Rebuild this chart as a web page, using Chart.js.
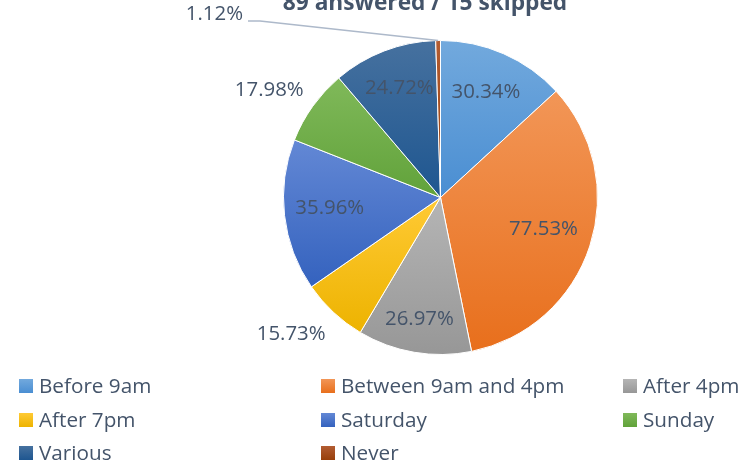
<!DOCTYPE html>
<html>
<head>
<meta charset="utf-8">
<script src="https://cdn.jsdelivr.net/npm/chart.js@4.4.1/dist/chart.umd.min.js"></script>
<style>
  html, body { margin: 0; padding: 0; background: #fff; }
  #wrap { position: relative; width: 756px; height: 468px; overflow: hidden; }
  #legend { position: absolute; left: 0; top: 0; width: 756px; height: 468px; pointer-events: none;
    font-family: "Open Sans", sans-serif; font-size: 20.7px; color: #44546a; }
  .item { position: absolute; white-space: nowrap; line-height: 1; }
  .box { position: absolute; width: 14px; height: 14px; }
  .txt { position: absolute; }
</style>
</head>
<body>
<div id="wrap">
  <canvas id="pie" width="756" height="468"></canvas>
  <div id="legend"></div>
</div>
<script>
const title = '89 answered / 15 skipped';
const categories = ['Before 9am', 'Between 9am and 4pm', 'After 4pm', 'After 7pm', 'Saturday', 'Sunday', 'Various', 'Never'];
const percentValues = [30.34, 77.53, 26.97, 15.73, 35.96, 17.98, 24.72, 1.12];

// slice colours: lighter top, darker bottom (office style gradient)
const topColors = ['#72a9dd', '#f29657', '#b5b5b5', '#ffca35', '#6388d5', '#80b95a', '#46719f', '#b25c32'];
const bottomColors = ['#4a8ed2', '#e86f1c', '#979797', '#edb300', '#3462be', '#61a23a', '#1e5690', '#983f0a'];

// label placement: [fraction of radius, angle nudge in degrees]
const labelPlace = [[0.72, 0], [0.69, 0], [0.8, 0], [1.3, 4], [0.71, 0], [1.28, -4], [0.73, 0], null];
const textColor = '#44546a';

const gradientPlugin = {
  id: 'sliceGradient',
  beforeDatasetsDraw(chart) {
    const ctx = chart.ctx;
    chart.getDatasetMeta(0).data.forEach((arc, i) => {
      const p = arc.getProps(['x', 'y', 'startAngle', 'endAngle', 'outerRadius']);
      let ymin = p.y, ymax = p.y;
      for (let k = 0; k <= 40; k++) {
        const a = p.startAngle + (p.endAngle - p.startAngle) * k / 40;
        const yy = p.y + p.outerRadius * Math.sin(a);
        ymin = Math.min(ymin, yy); ymax = Math.max(ymax, yy);
      }
      const g = ctx.createLinearGradient(0, ymin, 0, ymax + 0.01);
      g.addColorStop(0, topColors[i]);
      g.addColorStop(1, bottomColors[i]);
      arc.options.backgroundColor = g;
    });
  }
};

const labelPlugin = {
  id: 'pctLabels',
  afterDraw(chart) {
    const ctx = chart.ctx;
    ctx.save();
    ctx.font = '20.4px "Open Sans", sans-serif';
    ctx.fillStyle = textColor;
    ctx.textAlign = 'center';
    ctx.textBaseline = 'middle';
    chart.getDatasetMeta(0).data.forEach((arc, i) => {
      const p = arc.getProps(['x', 'y', 'startAngle', 'endAngle', 'outerRadius']);
      const txt = percentValues[i].toFixed(2) + '%';
      const mid = (p.startAngle + p.endAngle) / 2;
      if (labelPlace[i]) {
        const a = mid + labelPlace[i][1] * Math.PI / 180;
        const d = p.outerRadius * labelPlace[i][0];
        ctx.fillText(txt, p.x + d * Math.cos(a), p.y + d * Math.sin(a) - 2);
      } else {
        // tiny slice: leader line to a label up left
        const ex = p.x + p.outerRadius * Math.cos(mid);
        const ey = p.y + p.outerRadius * Math.sin(mid);
        ctx.strokeStyle = '#adb9ca';
        ctx.lineWidth = 1.5;
        ctx.beginPath();
        ctx.moveTo(ex, ey);
        ctx.lineTo(260, 21);
        ctx.lineTo(248, 21);
        ctx.stroke();
        ctx.textAlign = 'right';
        ctx.fillText(txt, 243, 14);
        ctx.textAlign = 'center';
      }
    });
    // title, cut at the top edge as in the source
    ctx.font = 'bold 22.7px "Open Sans", sans-serif';
    ctx.textBaseline = 'alphabetic';
    ctx.fillText(title, 425, 10);
    ctx.restore();
  }
};

new Chart(document.getElementById('pie'), {
  type: 'pie',
  data: {
    labels: categories,
    datasets: [{
      data: percentValues,
      backgroundColor: (c) => bottomColors[c.dataIndex],
      borderColor: '#ffffff',
      borderWidth: 1
    }]
  },
  options: {
    responsive: false,
    animation: false,
    layout: { padding: { left: 283, right: 158, top: 40, bottom: 113 } },
    plugins: { legend: { display: false }, tooltip: { enabled: false }, title: { display: false } }
  },
  plugins: [gradientPlugin, labelPlugin]
});

// legend: three columns, same order as the source
const legendCols = [19, 321, 623];
const legendRows = [379, 413, 446];
const legend = document.getElementById('legend');
categories.forEach((name, i) => {
  const left = legendCols[i % 3], top = legendRows[Math.floor(i / 3)];
  const box = document.createElement('div');
  box.className = 'box';
  box.style.left = left + 'px';
  box.style.top = top + 'px';
  box.style.background = 'linear-gradient(' + topColors[i] + ',' + bottomColors[i] + ')';
  const t = document.createElement('div');
  t.className = 'item txt';
  t.style.left = (left + 20) + 'px';
  t.style.top = (top - 4) + 'px';
  t.textContent = name;
  legend.appendChild(box);
  legend.appendChild(t);
});
</script>
</body>
</html>
